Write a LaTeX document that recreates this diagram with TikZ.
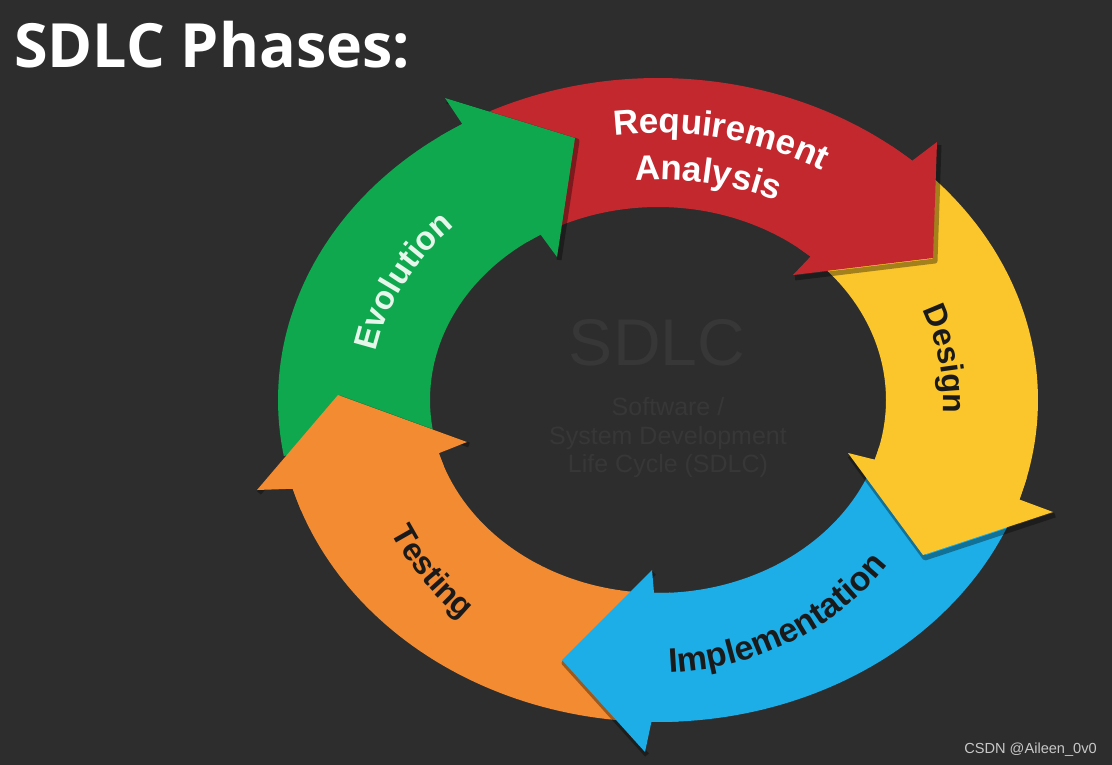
\documentclass[tikz,border=0pt]{standalone}
\usepackage{fontspec}
\setmainfont{Liberation Sans}
\newfontfamily\titelfont{Open Sans}
\usetikzlibrary{decorations.text}

\definecolor{hgrund}{HTML}{2D2D2D}
\definecolor{evo}{HTML}{0FA84F}
\definecolor{req}{HTML}{C3282F}
\definecolor{des}{HTML}{FBC52C}
\definecolor{imp}{HTML}{1DAEE8}
\definecolor{tst}{HTML}{F28B31}
\definecolor{blass}{HTML}{373737}
\definecolor{wzeichen}{HTML}{C8C8C8}
\definecolor{dunkel}{HTML}{1A1A1A}
\definecolor{hellgruen}{HTML}{E6F6EA}

\tikzset{
	bogentext/.style={decorate, decoration={text along path, text align=center, #1}},
	kopfschatten/.style={draw=black, opacity=.35, line width=5, line join=round, shift={(2,3)}}
}

\begin{document}
\begin{tikzpicture}[x=1pt, y=-1pt]

	% Mittelpunkt und Radien des Rings
	\def\cx{658} \def\cy{400}
	\def\Ra{380} \def\Rb{322}
	\def\ra{228} \def\rb{193}
	\def\Aussen#1{({\cx+\Ra*cos(#1)},{\cy+\Rb*sin(#1)})}
	\def\Innen#1{({\cx+\ra*cos(#1)},{\cy+\rb*sin(#1)})}

	% Hintergrund
	\fill[hgrund] (0,0) rectangle (1112,765);

	% Titel
	\node[anchor=base west, inner sep=0, text=white, font=\titelfont\bfseries\fontsize{61}{61}\selectfont] (titel) at (14,68) {SDLC Phases:};

	% Ringsegmente
	\foreach \farbe/\anf/\ende in {evo/170/239, req/242/312, des/315/378, imp/382/451, tst/455/524}
		\fill[\farbe] plot[domain=\anf:\ende, samples=50] ({\cx+\Ra*cos(\x)},{\cy+\Rb*sin(\x)})
			-- plot[domain=\ende:\anf, samples=50] ({\cx+\ra*cos(\x)},{\cy+\rb*sin(\x)}) -- cycle;

	% Pfeilspitzen (innerer Haken, Spitze, aeusserer Haken)
	\foreach \farbe/\ende/\hakeni/\spitze/\hakena in {evo/239/{557,257}/{575,138}/{445,98},
			req/312/{793,275}/{933,258}/{937,142}, des/378/{848,453}/{923,555}/{1053,512},
			imp/451/{652,570}/{562,660}/{645,752}, tst/524/{467,442}/{338,395}/{257,490}}{
		\draw[kopfschatten] (\hakena) -- (\spitze) -- (\hakeni);
		\fill[\farbe] \Innen{\ende-4} -- \Innen{\ende} -- (\hakeni) -- (\spitze) -- (\hakena)
			-- \Aussen{\ende} -- \Aussen{\ende-4} -- cycle;
	}

	% Beschriftung der Phasen
	\path[bogentext={text={|\bfseries\fontsize{35}{35}\selectfont|Requirement}, text color=white}]
		plot[domain=-118:-38, samples=60] ({\cx+322*cos(\x)},{\cy+267*sin(\x)});
	\path[bogentext={text={|\bfseries\fontsize{35}{35}\selectfont|Analysis}, text color=white}]
		plot[domain=-119:-39, samples=60] ({\cx+280*cos(\x)},{\cy+220*sin(\x)});
	\path[bogentext={text={|\bfseries\fontsize{33}{33}\selectfont|Evolution}, text color=hellgruen}]
		plot[domain=167:247, samples=60] ({\cx+288*cos(\x)},{\cy+245*sin(\x)});
	\path[bogentext={text={|\bfseries\fontsize{32}{32}\selectfont|Design}, text color=dunkel}]
		plot[domain=-40:22, samples=60] ({\cx+285*cos(\x)},{\cy+242*sin(\x)});
	\path[bogentext={text={|\bfseries\fontsize{34}{34}\selectfont|Implementation}, text color=dunkel}]
		plot[domain=107:17, samples=60] ({\cx+288*cos(\x)},{\cy+273*sin(\x)});
	\path[bogentext={text={|\bfseries\fontsize{32}{32}\selectfont|Testing}, text color=dunkel}]
		plot[domain=172:112, samples=60] ({\cx+300*cos(\x)},{\cy+290*sin(\x)});

	% Schrift in der Mitte
	\node[text=blass, font=\fontsize{66}{66}\selectfont] (sdlc) at (657,343) {SDLC};
	\node[text=blass, align=center, font=\fontsize{25}{28.5}\selectfont] (zyklus) at (668,438) {Software /\\System Development\\Life Cycle (SDLC)};

	% Wasserzeichen
	\node[anchor=base east, inner sep=0, text=wzeichen, font=\fontsize{14.6}{15}\selectfont] (wz) at (1097,753) {CSDN @Aileen\_0v0};

\end{tikzpicture}
\end{document}
